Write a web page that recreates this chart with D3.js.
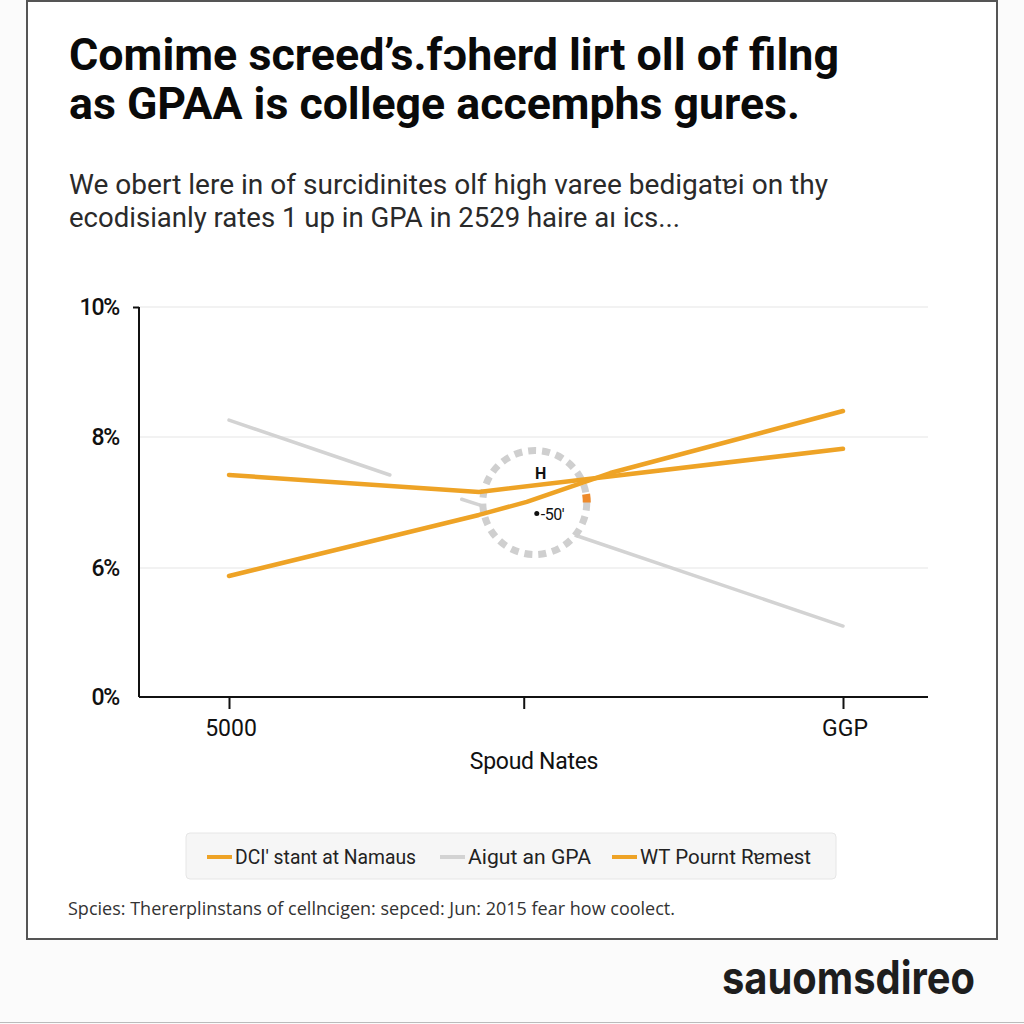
<!DOCTYPE html>
<html>
<head>
<meta charset="utf-8">
<script src="https://cdn.jsdelivr.net/npm/d3@7"></script>
<style>
  html, body { margin: 0; padding: 0; background: #fafafa; }
  svg { display: block; }
</style>
</head>
<body>
<script>
// ---------- DATA ----------
const titleLines = ["Comime screed\u2019s.f\u0254herd lirt oll of filng", "as GPAA is college accemphs gures."];
const subtitleLines = ["We obert lere in of surcidinites olf high varee bedigat\u0250i on thy", "ecodisianly rates 1 up in GPA in 2529 haire a\u0131 ics..."];
const yTickValues = [0, 6, 8, 10];
const yTickLabels = ["0%", "6%", "8%", "10%"];
const xTickValues = [0, 48, 100];
const xTickLabels = ["5000", "", "GGP"];
const xTitle = "Spoud Nates";
const seriesNames = ["DCI' stant at Namaus", "Aigut an GPA", "WT Pournt R\u0250mest"];
const seriesColors = ["#eea326", "#d3d3d3", "#eea326"];
// series 1 (orange, flat)
const s1x = [0, 40.7, 58.5, 100];
const s1y = [7.42, 7.16, 7.36, 7.82];
// series 2 (grey, falling, drawn with gaps)
const s2x = [0, 26.2, null, 37.9, 40.9, null, 56.4, 100];
const s2y = [8.26, 7.42, null, 7.05, 6.96, null, 6.50, 3.30];
// series 3 (orange, rising)
const s3x = [0, 40.7, 48.5, 62.1, 100];
const s3y = [5.63, 6.81, 7.01, 7.45, 8.40];
const annotation = { x: 49.8, y: 7.0, top: "H", bottom: "-50'" };
const sourceText = "Spcies: Thererplinstans of cellncigen: sepced: Jun: 2015 fear how coolect.";
const logoText = "sauomsdireo";

// ---------- SVG ----------
const W = 1024, H = 1024;
const svg = d3.select("body").append("svg").attr("width", W).attr("height", H);
svg.append("rect").attr("width", W).attr("height", H).attr("fill", "#fbfbfb");
svg.append("rect").attr("x", 27).attr("y", 1).attr("width", 970).attr("height", 938)
  .attr("fill", "#ffffff").attr("stroke", "#555").attr("stroke-width", 2);
svg.append("line").attr("x1", 0).attr("x2", W).attr("y1", 1022.5).attr("y2", 1022.5)
  .attr("stroke", "#bbb").attr("stroke-width", 1);

// title
const titleWidths = [770, 731];
svg.append("g").selectAll("text").data(titleLines).join("text")
  .attr("x", 69).attr("y", (d, i) => 70 + i * 49)
  .attr("font-family", "Roboto, 'Liberation Sans', sans-serif")
  .attr("font-weight", 700).attr("font-size", 45)
  .attr("textLength", (d, i) => titleWidths[i]).attr("lengthAdjust", "spacingAndGlyphs")
  .attr("fill", "#0a0a0a").text(d => d);

// subtitle
const subWidths = [759, 611];
svg.append("g").selectAll("text").data(subtitleLines).join("text")
  .attr("x", 69).attr("y", (d, i) => 194 + i * 33)
  .attr("font-family", "Roboto, 'Liberation Sans', sans-serif")
  .attr("font-size", 27)
  .attr("textLength", (d, i) => subWidths[i]).attr("lengthAdjust", "spacingAndGlyphs")
  .attr("fill", "#2a2a2a").text(d => d);

// scales
const x = d3.scaleLinear().domain([0, 100]).range([229, 843]);
const y = d3.scaleLinear().domain(yTickValues).range([697, 568, 437, 307]);
const plotL = 139, plotR = 928;

// grid
svg.append("g").selectAll("line").data(yTickValues.filter(v => v > 0)).join("line")
  .attr("x1", plotL).attr("x2", plotR).attr("y1", d => y(d)).attr("y2", d => y(d))
  .attr("stroke", "#e6e6e6").attr("stroke-width", 1.2);

// y axis
const yAxis = d3.axisLeft(y).tickValues([10]).tickFormat("").tickSize(6);
const gy = svg.append("g").attr("transform", `translate(${plotL},0)`).call(yAxis);
gy.selectAll("path").attr("stroke", "#111").attr("stroke-width", 2);
gy.selectAll("line").attr("stroke", "#111").attr("stroke-width", 2);
gy.select(".domain").attr("d", `M0,${y(10)}V${y(0)}`);
svg.append("g").selectAll("text").data(yTickValues).join("text")
  .attr("x", 119).attr("y", d => y(d) + 8)
  .attr("text-anchor", "end")
  .attr("font-family", "Roboto, 'Liberation Sans', sans-serif").attr("font-weight", 500)
  .attr("font-size", 23).attr("letter-spacing", -1.2).attr("fill", "#111")
  .text((d, i) => yTickLabels[i]);

// x axis
const xAxis = d3.axisBottom(x).tickValues(xTickValues).tickFormat("").tickSize(12);
const gx = svg.append("g").attr("transform", `translate(0,${y(0)})`).call(xAxis);
gx.select(".domain").attr("d", `M${plotL},0H${plotR}`).attr("stroke", "#111").attr("stroke-width", 2);
gx.selectAll(".tick line").attr("stroke", "#111").attr("stroke-width", 2);
svg.append("g").selectAll("text").data(xTickValues).join("text")
  .attr("x", d => x(d) + 2).attr("y", 736)
  .attr("text-anchor", "middle")
  .attr("font-family", "Roboto, 'Liberation Sans', sans-serif")
  .attr("font-size", 23).attr("fill", "#111")
  .text((d, i) => xTickLabels[i]);
svg.append("text").attr("x", 534).attr("y", 769).attr("text-anchor", "middle")
  .attr("font-family", "Roboto, 'Liberation Sans', sans-serif")
  .attr("font-size", 23).attr("letter-spacing", -0.3).attr("fill", "#111").text(xTitle);

// lines
const line = d3.line().defined(d => d[0] != null && d[1] != null)
  .x(d => x(d[0])).y(d => y(d[1]));
const zip = (a, b) => a.map((v, i) => [v, b[i]]);

svg.append("path").datum(zip(s2x, s2y)).attr("d", line)
  .attr("fill", "none").attr("stroke", seriesColors[1]).attr("stroke-width", 3.5).attr("stroke-linecap", "round");

// annotation circle
const cx = x(annotation.x), cy = y(annotation.y), r = 52;
svg.append("circle").attr("cx", cx).attr("cy", cy).attr("r", r)
  .attr("fill", "#fff").attr("stroke", "#cfcfcf").attr("stroke-width", 7)
  .attr("stroke-dasharray", "8 6");
const arc = d3.arc().innerRadius(r - 4).outerRadius(r + 4)
  .startAngle(Math.PI / 2 - 0.16).endAngle(Math.PI / 2 - 0.0);
svg.append("path").attr("d", arc()).attr("transform", `translate(${cx},${cy})`).attr("fill", "#ee8a2a");

svg.append("path").datum(zip(s1x, s1y)).attr("d", line)
  .attr("fill", "none").attr("stroke", seriesColors[0]).attr("stroke-width", 4.5).attr("stroke-linecap", "round").attr("stroke-linejoin", "round");
svg.append("path").datum(zip(s3x, s3y)).attr("d", line)
  .attr("fill", "none").attr("stroke", seriesColors[2]).attr("stroke-width", 4.5).attr("stroke-linecap", "round").attr("stroke-linejoin", "round");

svg.append("text").attr("x", cx + 6).attr("y", cy - 24).attr("text-anchor", "middle")
  .attr("font-family", "Roboto, 'Liberation Sans', sans-serif").attr("font-weight", 700)
  .attr("font-size", 16).attr("fill", "#111").text(annotation.top);
svg.append("circle").attr("cx", cx + 2).attr("cy", cy + 11).attr("r", 2.5).attr("fill", "#111");
svg.append("text").attr("x", cx + 6).attr("y", cy + 17)
  .attr("font-family", "Roboto, 'Liberation Sans', sans-serif")
  .attr("font-size", 16).attr("letter-spacing", -0.5).attr("fill", "#111").text(annotation.bottom);

// legend
const lg = svg.append("g");
lg.append("rect").attr("x", 186).attr("y", 833).attr("width", 650).attr("height", 46).attr("rx", 4)
  .attr("fill", "#f6f6f6").attr("stroke", "#e6e6e6");
const legendX = [207, 440, 612];
const legendW = [181, 123, 171];
const items = lg.selectAll("g.item").data(seriesNames).join("g").attr("class", "item")
  .attr("transform", (d, i) => `translate(${legendX[i]},857)`);
items.append("line").attr("x1", 0).attr("x2", 25).attr("y1", 0).attr("y2", 0)
  .attr("stroke", (d, i) => seriesColors[i]).attr("stroke-width", 4);
items.append("text").attr("x", 28).attr("y", 7)
  .attr("font-family", "Roboto, 'Liberation Sans', sans-serif")
  .attr("font-size", 20).attr("fill", "#222")
  .attr("textLength", (d, i) => legendW[i]).attr("lengthAdjust", "spacingAndGlyphs")
  .text(d => d);

// source
svg.append("text").attr("x", 68).attr("y", 915)
  .attr("font-family", "'Open Sans', 'Noto Sans', sans-serif")
  .attr("font-size", 18).attr("fill", "#333")
  .attr("textLength", 607).attr("lengthAdjust", "spacingAndGlyphs").text(sourceText);

// logo
svg.append("text").attr("x", 722).attr("y", 994)
  .attr("font-family", "Inter, 'Liberation Sans', sans-serif").attr("font-weight", 700)
  .attr("font-size", 46)
  .attr("textLength", 253).attr("lengthAdjust", "spacingAndGlyphs")
  .attr("fill", "#1e1e1e").text(logoText);
</script>
</body>
</html>
